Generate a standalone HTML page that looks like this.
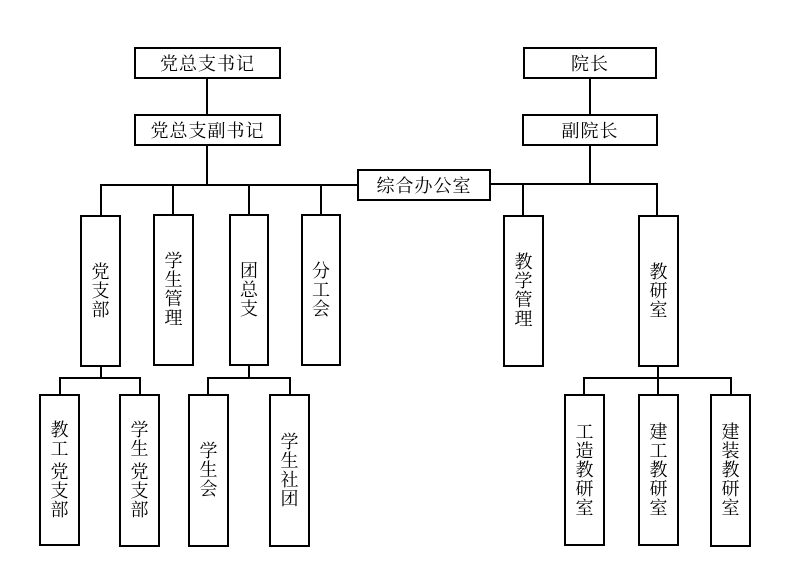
<!DOCTYPE html>
<html><head><meta charset="utf-8"><style>
body{margin:0;background:#fff;}
#c{position:relative;width:787px;height:574px;overflow:hidden;font-family:"Liberation Serif","Noto Serif CJK SC","Noto Sans CJK SC",serif;color:#000;}
.b{position:absolute;box-sizing:border-box;border:2px solid #000;background:#fff;display:flex;align-items:center;justify-content:center;font-size:18px;}
.h{letter-spacing:1px;}
.v span{display:block;width:18px;line-height:19px;text-align:center;}
.v{flex-direction:column;}
.l{position:absolute;background:#000;}
</style></head><body><div id="c">
<!-- lines -->
<div class="l" style="left:206px;top:79px;width:2px;height:35px"></div>
<div class="l" style="left:206px;top:146px;width:2px;height:39px"></div>
<div class="l" style="left:100px;top:184px;width:258px;height:2px"></div>
<div class="l" style="left:100px;top:184px;width:2px;height:31px"></div>
<div class="l" style="left:172px;top:184px;width:2px;height:31px"></div>
<div class="l" style="left:248px;top:184px;width:2px;height:31px"></div>
<div class="l" style="left:320px;top:184px;width:2px;height:31px"></div>
<div class="l" style="left:589px;top:79px;width:2px;height:35px"></div>
<div class="l" style="left:589px;top:146px;width:2px;height:39px"></div>
<div class="l" style="left:490px;top:183px;width:168px;height:2px"></div>
<div class="l" style="left:522px;top:183px;width:2px;height:32px"></div>
<div class="l" style="left:656px;top:183px;width:2px;height:32px"></div>
<!-- bottom brackets -->
<div class="l" style="left:100px;top:366px;width:2px;height:12px"></div>
<div class="l" style="left:59px;top:377px;width:82px;height:2px"></div>
<div class="l" style="left:59px;top:377px;width:2px;height:17px"></div>
<div class="l" style="left:139px;top:377px;width:2px;height:17px"></div>
<div class="l" style="left:248px;top:366px;width:2px;height:12px"></div>
<div class="l" style="left:207px;top:377px;width:84px;height:2px"></div>
<div class="l" style="left:207px;top:377px;width:2px;height:17px"></div>
<div class="l" style="left:289px;top:377px;width:2px;height:17px"></div>
<div class="l" style="left:657px;top:366px;width:2px;height:28px"></div>
<div class="l" style="left:583px;top:377px;width:149px;height:2px"></div>
<div class="l" style="left:583px;top:377px;width:2px;height:17px"></div>
<div class="l" style="left:730px;top:377px;width:2px;height:17px"></div>
<!-- top boxes -->
<div class="b h" style="left:134px;top:47px;width:147px;height:32px">党总支书记</div>
<div class="b h" style="left:134px;top:114px;width:147px;height:32px">党总支副书记</div>
<div class="b h" style="left:357px;top:169px;width:134px;height:32px">综合办公室</div>
<div class="b h" style="left:523px;top:47px;width:134px;height:32px">院长</div>
<div class="b h" style="left:522px;top:114px;width:136px;height:32px">副院长</div>
<!-- middle -->
<div class="b v" style="left:80px;top:215px;width:41px;height:152px"><span>党</span><span>支</span><span>部</span></div>
<div class="b v" style="left:153px;top:214px;width:41px;height:152px"><span>学</span><span>生</span><span>管</span><span>理</span></div>
<div class="b v" style="left:229px;top:214px;width:40px;height:152px"><span>团</span><span>总</span><span>支</span></div>
<div class="b v" style="left:301px;top:214px;width:40px;height:152px"><span>分</span><span>工</span><span>会</span></div>
<div class="b v" style="left:503px;top:215px;width:41px;height:152px"><span>教</span><span>学</span><span>管</span><span>理</span></div>
<div class="b v" style="left:638px;top:215px;width:41px;height:152px"><span>教</span><span>研</span><span>室</span></div>
<!-- bottom -->
<div class="b v" style="left:39px;top:394px;width:41px;height:152px"><span>教</span><span>工</span><span style="margin-top:4px">党</span><span>支</span><span>部</span></div>
<div class="b v" style="left:119px;top:394px;width:41px;height:153px"><span>学</span><span>生</span><span style="margin-top:4px">党</span><span>支</span><span>部</span></div>
<div class="b v" style="left:188px;top:394px;width:41px;height:153px"><span>学</span><span>生</span><span>会</span></div>
<div class="b v" style="left:269px;top:394px;width:41px;height:153px"><span>学</span><span>生</span><span>社</span><span>团</span></div>
<div class="b v" style="left:564px;top:394px;width:41px;height:152px"><span>工</span><span>造</span><span>教</span><span>研</span><span>室</span></div>
<div class="b v" style="left:638px;top:394px;width:41px;height:152px"><span>建</span><span>工</span><span>教</span><span>研</span><span>室</span></div>
<div class="b v" style="left:710px;top:394px;width:41px;height:153px"><span>建</span><span>装</span><span>教</span><span>研</span><span>室</span></div>
</div></body></html>
